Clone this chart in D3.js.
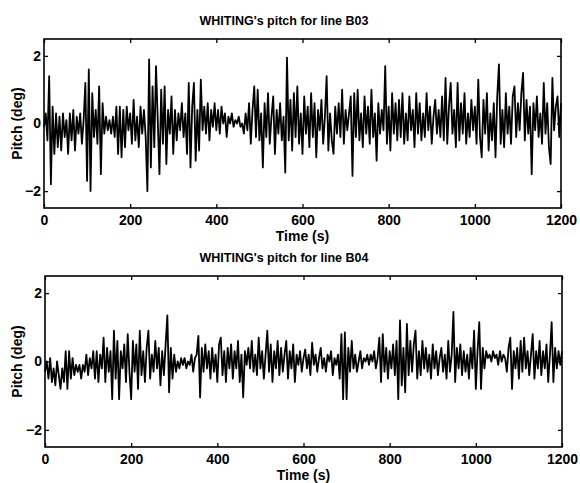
<!DOCTYPE html>
<html>
<head>
<meta charset="utf-8">
<script src="https://cdn.jsdelivr.net/npm/d3@7"></script>
<style>
  body { margin: 0; background: #fff; }
  text { font-family: "Liberation Sans", Arial, sans-serif; font-weight: bold; fill: #000; }
</style>
</head>
<body>
<div id="chart"></div>
<script>
// sampling step of the pitch records (s)
const dt = 4;

// line B03, pitch in degrees, one value every 4 s from t = 0
const pitchB03 = [
  -0.1, 0.3, -0.5, 1.4, -1.8, 0.5, -0.9, 0.3, -0.7, 0.2,
  -0.8, 0.3, -0.4, 0.1, -0.9, 0.3, -0.5, 0.4, -0.8, 0.2,
  -0.3, 0.3, -0.6, 0.1, 1.2, -1.7, 1.6, -2.0, 0.9, -0.4,
  0.4, -0.6, 1.1, -1.5, 0.6, -0.3, 0.2, -0.2, 0.1, -0.3,
  0.2, -0.4, 0.5, -0.9, 0.5, -1.0, 0.4, -0.7, 0.5, -0.2,
  0.3, -0.6, 0.7, -0.5, 0.2, -0.7, 0.5, -0.3, 0.4, -0.4,
  -2.0, 1.9, -1.3, 1.1, -0.7, 1.7, 0.1, -1.5, 1.0, -0.6,
  1.1, -1.2, 0.4, -0.3, 0.8, -0.9, 0.4, -0.5, 0.3, -0.2,
  0.6, -0.4, 0.3, -0.9, 1.2, -1.3, 0.5, 1.2, -1.1, 0.4,
  -0.8, 1.3, -0.2, 0.5, -0.3, 0.6, -0.5, 0.4, -0.1, 0.6,
  -0.2, 0.4, -0.3, 0.5, 0.0, 0.3, -0.4, 0.2, 0.0, 0.3,
  -0.1, 0.1, 0.0, 0.2, -0.1, 0.0, -0.3, 0.3, -0.2, 0.6,
  -0.6, 0.4, 1.1, -0.4, 1.0, -0.5, 0.3, -1.3, 0.6, -0.4,
  0.9, -0.6, 0.2, 0.8, -0.9, 0.4, -0.3, 0.6, -0.5, 0.2,
  -1.45, 1.95, -0.5, 0.7, -0.8, 0.9, -0.4, 1.1, -0.6, 0.3,
  -0.9, 0.8, -0.3, 0.5, -0.7, 0.9, -0.4, 0.6, -1.0, 0.4,
  -0.2, 0.7, -0.6, 0.2, 1.4, -0.8, 0.3, -0.5, -0.9, 0.5,
  -0.3, 0.6, -0.4, 1.0, -0.6, 0.4, -0.2, 0.3, 0.8, -1.55,
  0.9, -0.4, 1.0, -0.5, 0.3, -0.7, 0.8, -0.3, 0.5, -0.6,
  1.0, -0.4, 0.3, -1.1, 0.6, -0.3, 0.4, -0.2, 1.7, -0.6,
  0.5, -0.8, 0.9, -0.3, 0.6, -0.5, 0.7, -0.4, 0.9, -0.6,
  0.3, -0.5, 0.8, -0.2, 0.4, -0.7, 0.9, -0.3, 0.6, -0.5,
  0.3, -0.4, 0.9, -0.2, 0.5, -0.6, 0.2, 0.7, -0.3, 0.4,
  -0.4, 0.8, -0.5, 1.35, -0.6, 0.5, 1.2, -0.3, 0.4, -0.7,
  1.2, -0.5, 0.6, -0.3, 0.9, -0.6, 0.3, -0.4, 0.7, -0.2,
  0.5, -0.6, 1.3, -0.4, -1.0, 0.7, -0.3, 0.9, -0.8, 0.3,
  -0.5, 0.6, -1.0, 0.8, 1.75, -0.6, 0.4, -0.7, 0.9, -0.3,
  0.5, -0.6, 0.8, 1.1, -0.4, 0.6, -0.2, 0.9, 1.5, -0.5,
  0.7, -0.3, 0.5, -1.5, 0.6, -0.2, 0.8, -0.4, 0.3, -0.6,
  1.2, -0.3, 0.6, -0.7, -1.2, 1.35, -0.2, 0.5, 0.8, -0.4,
  0.6
];

// line B04, pitch in degrees, one value every 4 s from t = 0
const pitchB04 = [
  -0.3, 0.0, -0.5, 0.1, -0.6, -0.2, -0.7, 0.0, -0.4, -0.8,
  -0.2, -0.6, 0.3, -0.8, 0.3, -0.5, 0.1, -0.4, -0.1, -0.3,
  -0.1, -0.5, -0.1, -0.3, 0.2, -0.4, 0.1, -0.2, 0.3, -0.5,
  0.3, -0.6, 0.2, -0.2, 0.7, -0.6, 0.4, -0.3, 0.3, -1.1,
  0.9, -0.5, 0.6, -1.1, 0.3, -0.2, 0.5, -0.6, 0.8, -0.3,
  -1.1, 0.6, -0.3, 0.5, -0.8, 0.9, -0.4, 0.3, -0.6, 0.4,
  0.9, -0.5, 0.2, -0.3, 0.6, -0.2, 0.4, -0.7, 0.3, -0.4,
  0.5, 1.35, -0.9, 0.4, -0.5, 0.2, -0.3, 0.0, -0.2, 0.1,
  -0.1, 0.1, -0.2, 0.0, -0.1, 0.2, -0.3, 0.1, 0.2, 0.75,
  -1.05, 0.4, -0.3, 0.5, -0.2, 0.3, -0.5, 0.4, -0.3, 0.2,
  -0.6, 0.5, 0.7, -0.4, 0.3, -0.6, 0.4, -0.2, 0.5, -0.5,
  0.3, -0.2, 0.6, -0.6, 0.2, -1.05, 0.3, -0.1, 0.4, -0.2,
  0.6, -0.3, 0.2, -0.4, 0.7, -0.2, 0.3, -0.5, 0.2, 0.9,
  -0.3, 0.5, -0.6, 0.3, -0.2, 0.6, -0.4, 0.4, -0.3, 0.2,
  0.6, -0.5, 0.3, -0.2, 0.5, -0.6, 0.2, -0.1, 0.3, -0.3,
  0.1, 0.35, -0.2, 0.2, -0.4, 0.55, -0.1, 0.2, -0.3, 0.1,
  0.4, -0.2, 0.1, -0.3, 0.2, 0.0, 0.3, -0.4, 0.1, -0.1,
  0.2, -0.5, 0.8, -1.1, 0.85, -1.1, 0.4, -0.3, 0.6, -0.2,
  0.2, -0.3, 0.0, 0.3, -0.2, 0.1, 0.0, 0.2, -0.1, 0.2,
  0.0, 0.3, -0.2, 0.1, 0.7, -0.6, 0.8, -0.3, 0.4, -0.5,
  0.3, -0.2, 0.5, -0.4, 0.6, -1.1, 1.2, -0.7, 0.4, -0.9,
  1.1, -0.4, 0.6, -0.3, 0.5, 0.9, -0.5, 0.3, -0.4, 0.6,
  -0.2, 0.4, -0.3, 0.2, -0.5, 0.5, -0.2, 0.3, -0.4, 0.1,
  0.4, -0.3, 0.2, -0.5, 0.6, -0.3, 0.2, 1.45, -0.6, 0.4,
  -0.2, 0.5, -0.4, 0.3, -0.3, 0.2, -0.5, 0.4, -0.2, 0.9,
  -0.8, 0.3, 1.15, -0.8, 0.4, -0.2, 0.3, 0.1, 0.2, 0.0,
  0.3, 0.1, 0.2, -0.1, 0.3, 0.0, 0.2, 0.1, -0.3, 0.4,
  0.7, -0.8, 0.3, -0.2, 0.4, -0.5, 0.6, -0.3, 0.7, -0.2,
  0.3, -0.4, 0.2, 0.8, -0.5, 0.3, -0.2, 0.6, -0.4, 0.3,
  -0.2, 0.5, -0.6, 0.2, 1.15, -0.6, 0.4, -0.2, 0.3, -0.1,
  0.3
];

const xTicks = [0, 200, 400, 600, 800, 1000, 1200];
const yTicks = [-2, 0, 2];
const titles = ["WHITING's pitch for line B03", "WHITING's pitch for line B04"];
const xLabel = "Time (s)";
const yLabel = "Pitch (deg)";

const W = 580, H = 483;

const svg = d3.select("#chart")
  .append("svg")
  .attr("width", W)
  .attr("height", H)
  .style("display", "block");

svg.append("rect").attr("width", W).attr("height", H).attr("fill", "#fff");

// panel boxes (left, right, top, bottom) and title centre
const panels = [
  { data: pitchB03, title: titles[0], x0: 44, x1: 561, y0: 39, y1: 208, tx: 284 },
  { data: pitchB04, title: titles[1], x0: 45, x1: 562, y0: 276, y1: 447, tx: 284 }
];

panels.forEach(function (p) {
  const x = d3.scaleLinear().domain([0, 1200]).range([p.x0, p.x1]);
  const y = d3.scaleLinear().domain([-2.5, 2.5]).range([p.y1, p.y0]);

  // the signal
  const line = d3.line()
    .x((d, i) => x(i * dt))
    .y(d => y(d));

  svg.append("path")
    .datum(p.data)
    .attr("fill", "none")
    .attr("stroke", "#000")
    .attr("stroke-width", 1.8)
    .attr("stroke-linejoin", "round")
    .attr("d", line);

  // inward ticks on all four sides
  const bottom = svg.append("g")
    .attr("transform", `translate(0,${p.y1})`)
    .call(d3.axisBottom(x).tickValues(xTicks).tickSizeInner(-4).tickSizeOuter(0).tickPadding(7)
      .tickFormat(d3.format("d")));
  bottom.selectAll("text").style("font-size", "14px");

  svg.append("g")
    .attr("transform", `translate(0,${p.y0})`)
    .call(d3.axisTop(x).tickValues(xTicks).tickSizeInner(-4).tickSizeOuter(0).tickFormat(""));

  const left = svg.append("g")
    .attr("transform", `translate(${p.x0},0)`)
    .call(d3.axisLeft(y).tickValues(yTicks).tickSizeInner(-4).tickSizeOuter(0).tickPadding(3)
      .tickFormat(d3.format("d")));
  left.selectAll("text").style("font-size", "14px");

  svg.append("g")
    .attr("transform", `translate(${p.x1},0)`)
    .call(d3.axisRight(y).tickValues(yTicks).tickSizeInner(-4).tickSizeOuter(0).tickFormat(""));

  svg.selectAll(".domain").remove();
  svg.selectAll(".tick line").attr("stroke", "#000").attr("stroke-width", 1.3);

  // axes box
  svg.append("rect")
    .attr("x", p.x0)
    .attr("y", p.y0)
    .attr("width", p.x1 - p.x0)
    .attr("height", p.y1 - p.y0)
    .attr("fill", "none")
    .attr("stroke", "#000")
    .attr("stroke-width", 1.6);

  svg.append("text")
    .attr("x", p.tx)
    .attr("y", p.y0 - 14)
    .attr("text-anchor", "middle")
    .style("font-size", "12.5px")
    .text(p.title);

  svg.append("text")
    .attr("x", (p.x0 + p.x1) / 2)
    .attr("y", p.y1 + 33)
    .attr("text-anchor", "middle")
    .style("font-size", "14px")
    .text(xLabel);

  svg.append("text")
    .attr("transform", `translate(22,${(p.y0 + p.y1) / 2}) rotate(-90)`)
    .attr("text-anchor", "middle")
    .style("font-size", "14px")
    .text(yLabel);
});
</script>
</body>
</html>
